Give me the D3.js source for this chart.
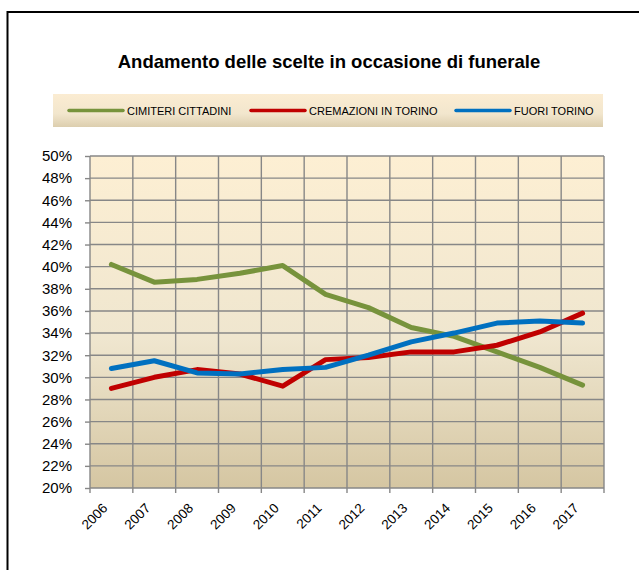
<!DOCTYPE html>
<html>
<head>
<meta charset="utf-8">
<script src="https://cdnjs.cloudflare.com/ajax/libs/d3/7.8.5/d3.min.js"></script>
<style>
  body { margin: 0; background: #ffffff; }
  svg { display: block; }
</style>
</head>
<body>
<div id="chart"></div>
<script>
var years = ["2006", "2007", "2008", "2009", "2010", "2011", "2012", "2013", "2014", "2015", "2016", "2017"];
var cimiteriCittadini = [40.2, 38.6, 38.85, 39.4, 40.1, 37.5, 36.3, 34.5, 33.7, 32.3, 30.9, 29.3];
var cremazioniTorino = [29.0, 30.0, 30.7, 30.3, 29.2, 31.6, 31.8, 32.3, 32.3, 32.9, 34.1, 35.8];
var fuoriTorino = [30.8, 31.5, 30.4, 30.3, 30.7, 30.9, 32.0, 33.2, 34.0, 34.9, 35.1, 34.9];
var seriesNames = ["CIMITERI CITTADINI", "CREMAZIONI IN TORINO", "FUORI TORINO"];
var seriesColors = ["#77933c", "#c00000", "#0070c0"];
var yTicks = [20, 22, 24, 26, 28, 30, 32, 34, 36, 38, 40, 42, 44, 46, 48, 50];
var titleText = "Andamento delle scelte in occasione di funerale";

var width = 639, height = 570;
var plot = { left: 90, top: 156, right: 604, bottom: 488 };
var gridColor = "#878787";

var svg = d3.select("#chart").append("svg")
    .attr("width", width)
    .attr("height", height);

var defs = svg.append("defs");
var bgGrad = defs.append("linearGradient")
    .attr("id", "plotBg").attr("x1", 0).attr("y1", 0).attr("x2", 0).attr("y2", 1);
bgGrad.append("stop").attr("offset", "0%").attr("stop-color", "#fdefd3");
bgGrad.append("stop").attr("offset", "55%").attr("stop-color", "#efe6cf");
bgGrad.append("stop").attr("offset", "100%").attr("stop-color", "#d5c6a2");
var legGrad = defs.append("linearGradient")
    .attr("id", "legBg").attr("x1", 0).attr("y1", 0).attr("x2", 0).attr("y2", 1);
legGrad.append("stop").attr("offset", "0%").attr("stop-color", "#fbecd2");
legGrad.append("stop").attr("offset", "60%").attr("stop-color", "#f2e6cd");
legGrad.append("stop").attr("offset", "100%").attr("stop-color", "#dcceae");

// outer frame (only top and left edges are visible in the picture)
svg.append("rect")
    .attr("x", 7.5).attr("y", 12)
    .attr("width", 700).attr("height", 700)
    .style("fill", "none")
    .style("stroke", "#000")
    .style("stroke-width", 2);

svg.append("text")
    .attr("x", 329)
    .attr("y", 68)
    .attr("text-anchor", "middle")
    .style("font-family", "'Liberation Sans', Arial, sans-serif")
    .style("font-weight", "bold")
    .style("font-size", "18.5px")
    .style("fill", "#000")
    .text(titleText);

// legend
var legend = svg.append("g");
legend.append("rect")
    .attr("x", 53).attr("y", 94)
    .attr("width", 550).attr("height", 33)
    .style("fill", "url(#legBg)");
var legendX = [69, 251, 456];
seriesNames.forEach(function (name, i) {
    legend.append("line")
        .attr("x1", legendX[i]).attr("x2", legendX[i] + 54)
        .attr("y1", 110.5).attr("y2", 110.5)
        .style("stroke", seriesColors[i])
        .style("stroke-width", 3.5)
        .style("stroke-linecap", "round");
    legend.append("text")
        .attr("x", legendX[i] + 58)
        .attr("y", 114.5)
        .style("font-family", "'Liberation Sans', Arial, sans-serif")
        .style("font-size", "11px")
        .style("fill", "#000")
        .text(name);
});

var x = d3.scaleBand().domain(years).range([plot.left, plot.right]);
var y = d3.scaleLinear().domain([20, 50]).range([plot.bottom, plot.top]);

svg.append("rect")
    .attr("x", plot.left).attr("y", plot.top)
    .attr("width", plot.right - plot.left)
    .attr("height", plot.bottom - plot.top)
    .style("fill", "url(#plotBg)");

// horizontal gridlines + y axis
var yAxis = svg.append("g")
    .attr("transform", "translate(" + plot.left + ",0)")
    .call(d3.axisLeft(y).tickValues(yTicks).tickSize(5).tickPadding(13)
        .tickFormat(function (d) { return d + "%"; }));
yAxis.select(".domain").remove();
yAxis.selectAll("line").style("stroke", gridColor).style("stroke-width", 1.4);
yAxis.selectAll("text")
    .style("font-family", "'Liberation Sans', Arial, sans-serif")
    .style("font-size", "15px")
    .style("fill", "#000");

svg.append("g")
    .selectAll("line")
    .data(yTicks)
    .enter().append("line")
    .attr("x1", plot.left).attr("x2", plot.right)
    .attr("y1", function (d) { return y(d); })
    .attr("y2", function (d) { return y(d); })
    .style("stroke", gridColor)
    .style("stroke-width", 1.4);

// vertical gridlines at category boundaries
var bounds = years.map(function (d) { return x(d); }).concat([plot.right]);
svg.append("g")
    .selectAll("line")
    .data(bounds)
    .enter().append("line")
    .attr("x1", function (d) { return d; })
    .attr("x2", function (d) { return d; })
    .attr("y1", plot.top)
    .attr("y2", plot.bottom + 5)
    .style("stroke", gridColor)
    .style("stroke-width", 1.4);

// x labels
svg.append("g")
    .selectAll("text")
    .data(years)
    .enter().append("text")
    .attr("text-anchor", "end")
    .attr("transform", function (d) {
        return "translate(" + (x(d) + x.bandwidth() / 2 - 3) + "," + (plot.bottom + 21) + ") rotate(-45)";
    })
    .style("font-family", "'Liberation Sans', Arial, sans-serif")
    .style("font-size", "13.5px")
    .style("fill", "#000")
    .text(function (d) { return d; });

// series lines
var line = d3.line()
    .x(function (d, i) { return x(years[i]) + x.bandwidth() / 2; })
    .y(function (d) { return y(d); });

[cimiteriCittadini, cremazioniTorino, fuoriTorino].forEach(function (values, i) {
    svg.append("path")
        .datum(values)
        .attr("d", line)
        .style("fill", "none")
        .style("stroke", seriesColors[i])
        .style("stroke-width", 5)
        .style("stroke-linejoin", "round")
        .style("stroke-linecap", "round");
});
</script>
</body>
</html>
